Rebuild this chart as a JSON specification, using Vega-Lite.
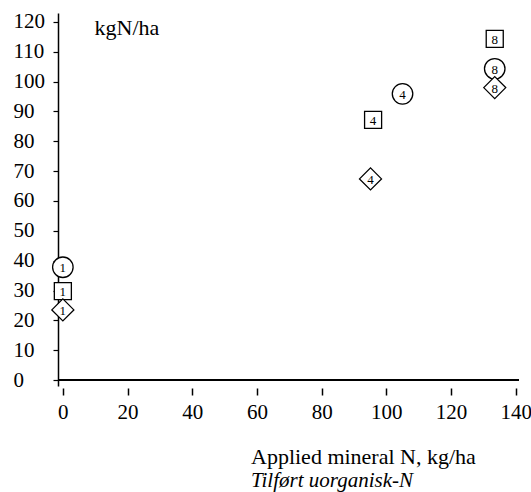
{
  "$schema": "https://vega.github.io/schema/vega-lite/v6.json",
  "autosize": {"type": "none"},
  "padding": {"left": 58, "top": 13, "right": 12, "bottom": 106},
  "width": 461,
  "height": 373,
  "background": "white",
  "config": {
    "view": {"stroke": null},
    "font": "Liberation Serif",
    "axis": {"grid": false, "labelFont": "Liberation Serif", "labelFontSize": 21, "labelColor": "black", "tickColor": "black", "domainColor": "black"},
    "title": {"font": "Liberation Serif", "subtitleFont": "Liberation Serif"}
  },
  "title": {
    "text": "Applied mineral N, kg/ha",
    "subtitle": "Tilført uorganisk-N",
    "orient": "bottom",
    "anchor": "start",
    "dx": 238,
    "offset": 25,
    "fontSize": 22,
    "fontWeight": "normal",
    "color": "black",
    "subtitleFontSize": 21,
    "subtitleFontStyle": "italic",
    "subtitleColor": "black",
    "subtitlePadding": 1
  },
  "data": {
    "values": [
      {"series": "circle", "n": 0, "y": 37.8, "label": "1"},
      {"series": "circle", "n": 105, "y": 95.9, "label": "4"},
      {"series": "circle", "n": 133.5, "y": 104.3, "label": "8"},
      {"series": "square", "n": 0, "y": 29.8, "label": "1"},
      {"series": "square", "n": 95.9, "y": 87.2, "label": "4"},
      {"series": "square", "n": 133.5, "y": 114.3, "label": "8"},
      {"series": "diamond", "n": 0, "y": 23.5, "label": "1"},
      {"series": "diamond", "n": 95.1, "y": 67.4, "label": "4"},
      {"series": "diamond", "n": 133.5, "y": 98.0, "label": "8"}
    ]
  },
  "encoding": {
    "x": {
      "field": "n", "type": "quantitative",
      "scale": {"domain": [-1.5, 141], "nice": false, "zero": false},
      "axis": {
        "title": null, "domain": false, "values": [0, 20, 40, 60, 80, 100, 120, 140],
        "offset": 2, "tickSize": 7, "tickWidth": 1.5, "labelPadding": 6, "labelFlush": false
      }
    },
    "y": {
      "field": "y", "type": "quantitative",
      "scale": {"domain": [-2, 123], "nice": false, "zero": false},
      "axis": {
        "title": "kgN/ha", "titleAngle": 0, "titleAlign": "left", "titleBaseline": "alphabetic",
        "titleX": 36, "titleY": 21, "titleFontSize": 22, "titleFontWeight": "normal",
        "titleFont": "Liberation Serif", "titleColor": "black",
        "values": [0, 10, 20, 30, 40, 50, 60, 70, 80, 90, 100, 110, 120],
        "domainWidth": 1.5, "tickSize": 5, "tickWidth": 1.2,
        "labelAlign": "left", "labelPadding": 40, "labelBaseline": "middle"
      }
    }
  },
  "layer": [
    {
      "mark": {"type": "rule", "color": "black", "strokeWidth": 1.5},
      "encoding": {"y": {"datum": 0}, "x": null}
    },
    {
      "transform": [{"filter": "datum.series === 'circle'"}],
      "mark": {"type": "point", "shape": "circle", "size": 420, "filled": true, "fill": "white", "stroke": "black", "strokeWidth": 1.3, "opacity": 1}
    },
    {
      "transform": [{"filter": "datum.series === 'square'"}],
      "mark": {"type": "point", "shape": "square", "size": 290, "filled": true, "fill": "white", "stroke": "black", "strokeWidth": 1.3, "opacity": 1}
    },
    {
      "transform": [{"filter": "datum.series === 'diamond'"}],
      "mark": {"type": "point", "shape": "diamond", "size": 484, "filled": true, "fill": "white", "stroke": "black", "strokeWidth": 1.3, "opacity": 1}
    },
    {
      "mark": {"type": "text", "font": "Liberation Serif", "fontSize": 13, "color": "black", "baseline": "middle", "align": "center", "dy": 1},
      "encoding": {"text": {"field": "label"}}
    }
  ]
}
